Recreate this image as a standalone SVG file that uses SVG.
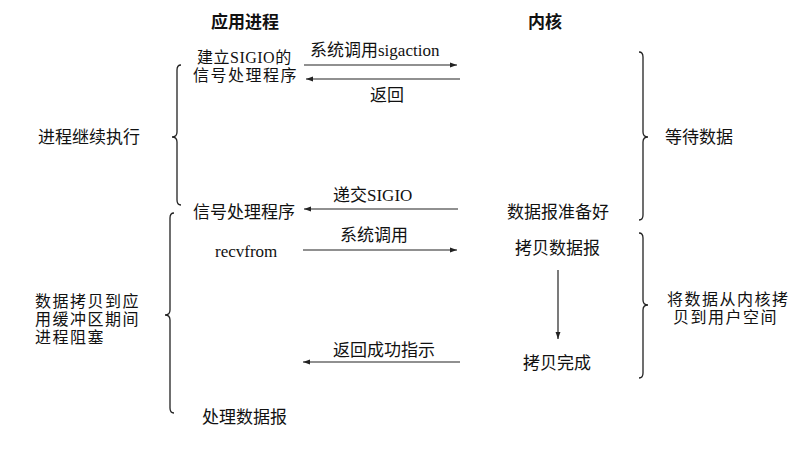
<svg xmlns="http://www.w3.org/2000/svg" width="812" height="455" viewBox="0 0 812 455">
<style>
text{font-family:"Liberation Serif","Noto Sans CJK SC",serif;font-size:17px;fill:#111}
.h{font-family:"Noto Sans CJK SC",sans-serif;font-weight:bold;font-size:17px}
.m{font-size:16px;letter-spacing:1.5px}
.line{stroke:#222;stroke-width:1.2;fill:none}
.brace{stroke:#222;stroke-width:1.3;fill:none}
</style>
<defs>
<marker id="ah" viewBox="0 0 10 10" refX="10" refY="5" markerWidth="7" markerHeight="7" orient="auto" markerUnits="userSpaceOnUse">
<path d="M0,1.5 L10,5 L0,8.5 Z" fill="#222"/>
</marker>
</defs>
<rect width="812" height="455" fill="#fff"/>
<g id="headers">
<text class="h" x="211" y="28">应用进程</text>
<text class="h" x="528" y="28">内核</text>
</g>
<g id="app-setup">
<text class="m" x="197" y="63" style="letter-spacing:0.5px">建立SIGIO的</text>
<text class="m" x="193" y="81">信号处理程序</text>
</g>
<g id="app-handler">
<text x="193" y="218">信号处理程序</text>
</g>
<g id="app-recvfrom">
<text x="215" y="257">recvfrom</text>
</g>
<g id="app-process">
<text x="202" y="423">处理数据报</text>
</g>
<g id="kernel-ready">
<text x="507" y="218">数据报准备好</text>
</g>
<g id="kernel-copy">
<text x="515" y="254">拷贝数据报</text>
</g>
<g id="kernel-done">
<text x="523" y="369">拷贝完成</text>
</g>
<g id="left-labels">
<text x="38" y="143">进程继续执行</text>
<text class="m" x="35" y="307">数据拷贝到应</text>
<text class="m" x="35" y="325">用缓冲区期间</text>
<text class="m" x="35" y="343">进程阻塞</text>
</g>
<g id="right-labels">
<text x="665" y="143">等待数据</text>
<text class="m" x="667" y="305">将数据从内核拷</text>
<text class="m" x="673" y="323">贝到用户空间</text>
</g>
<g id="connectors">
<path class="line" d="M304,65 L457,65" marker-end="url(#ah)"/>
<text x="310" y="56">系统调用sigaction</text>
<path class="line" d="M460,79 L306,79" marker-end="url(#ah)"/>
<text x="370" y="101">返回</text>
<path class="line" d="M458,209 L304,209" marker-end="url(#ah)"/>
<text x="333" y="201">递交SIGIO</text>
<path class="line" d="M303,250 L457,250" marker-end="url(#ah)"/>
<text x="340" y="241">系统调用</text>
<path class="line" d="M558,270 L558,339" marker-end="url(#ah)"/>
<path class="line" d="M460,362 L303,362" marker-end="url(#ah)"/>
<text x="333" y="356">返回成功指示</text>
</g>
<g id="braces">
<path class="brace" d="M181,65 Q177,65 177,70 L177,132 Q177,137 172,137 Q177,137 177,142 L177,200 Q177,205 181,205"/>
<path class="brace" d="M174,213 Q170,213 170,218 L170,310 Q170,315 165,315 Q170,315 170,320 L170,408 Q170,413 174,413"/>
<path class="brace" d="M639,52 Q643,52 643,57 L643,132 Q643,137 648,137 Q643,137 643,142 L643,215 Q643,220 639,220"/>
<path class="brace" d="M639,233 Q643,233 643,238 L643,300 Q643,305 648,305 Q643,305 643,310 L643,373 Q643,378 639,378"/>
</g>
</svg>
